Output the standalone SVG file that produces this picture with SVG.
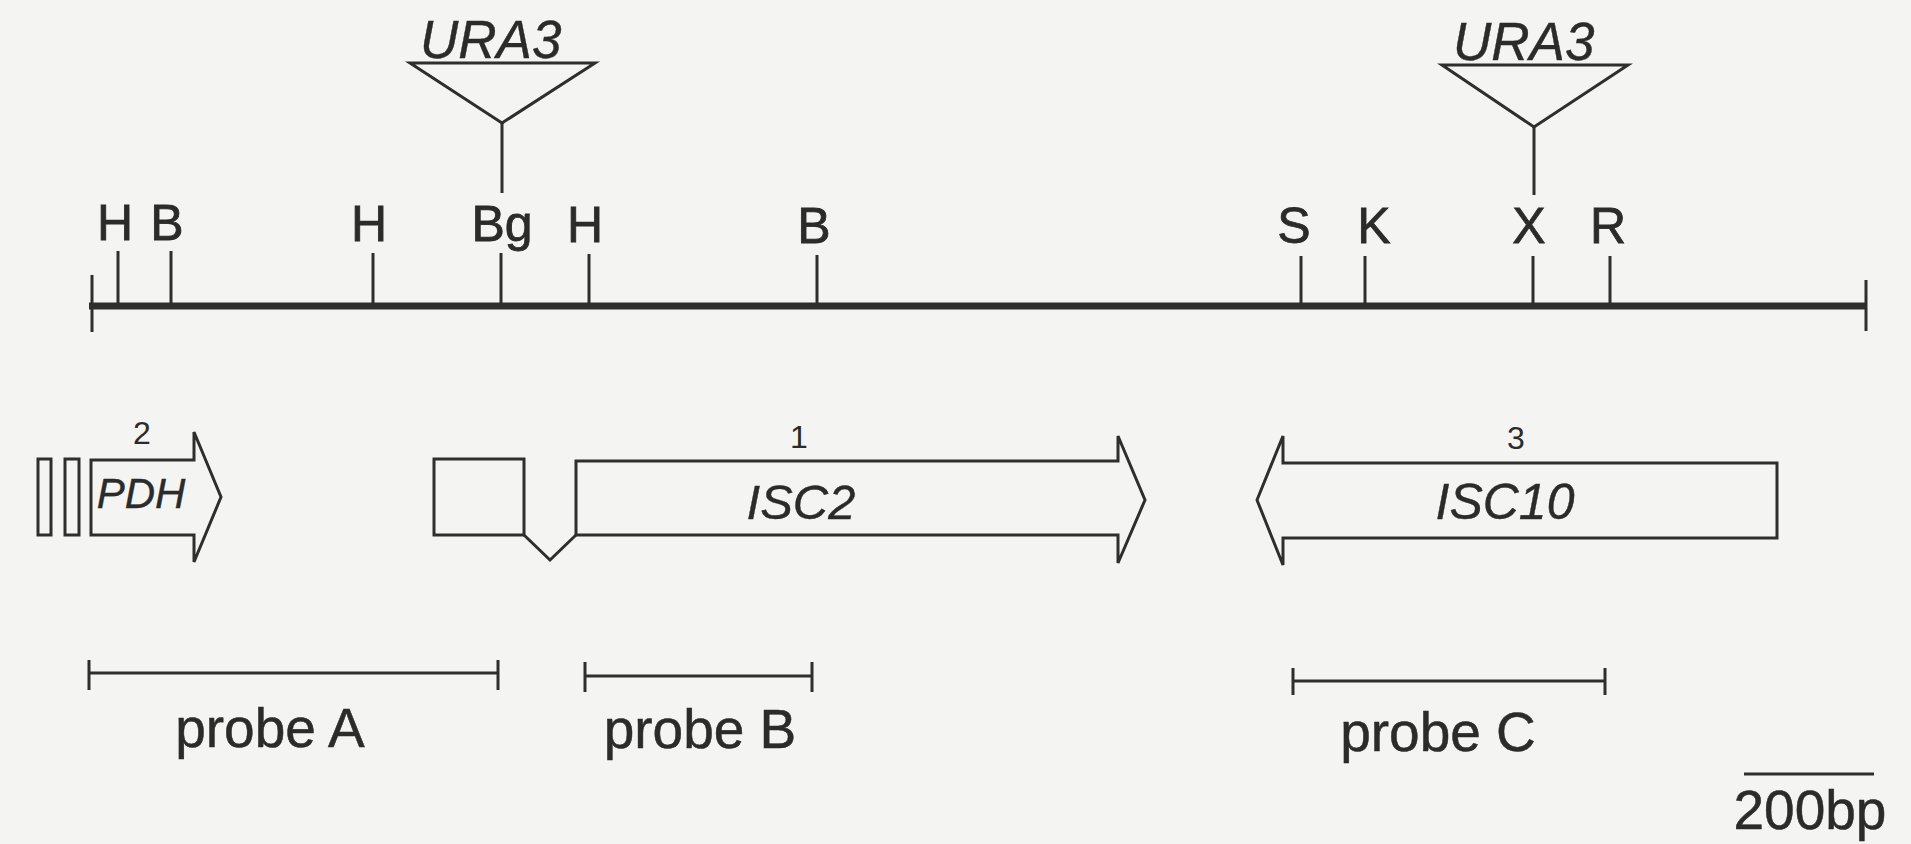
<svg xmlns="http://www.w3.org/2000/svg" width="1911" height="844" viewBox="0 0 1911 844">
  <style>
    .ln { stroke: #2e2e2e; stroke-width: 3; fill: none; stroke-linecap: butt; }
    .shape { stroke: #2e2e2e; stroke-width: 3; fill: none; stroke-linejoin: miter; }
    .site { font-family: "Liberation Sans", Arial, sans-serif; font-size: 50px; fill: #2b2b2b; stroke: #2b2b2b; stroke-width: 0.8; text-anchor: middle; }
    .ital { font-family: "Liberation Sans", Arial, sans-serif; font-style: italic; fill: #2b2b2b; stroke: #2b2b2b; stroke-width: 0.4; }
    .num { font-family: "Liberation Sans", Arial, sans-serif; font-size: 32px; fill: #2b2b2b; text-anchor: middle; }
    .probe { font-family: "Liberation Sans", Arial, sans-serif; font-size: 55px; fill: #2b2b2b; stroke: #2b2b2b; stroke-width: 0.5; text-anchor: middle; }
  </style>
  <rect x="0" y="0" width="1911" height="844" fill="#f4f4f2"/>

  <g id="restriction-map">
    <line x1="89" y1="306" x2="1866" y2="306" stroke="#2e2e2e" stroke-width="7"/>
    <line class="ln" x1="92" y1="275" x2="92" y2="332"/>
    <line class="ln" x1="1866" y1="280" x2="1866" y2="331"/>
    <line class="ln" x1="118" y1="251" x2="118" y2="306"/>
    <line class="ln" x1="171" y1="251" x2="171" y2="306"/>
    <line class="ln" x1="373" y1="253" x2="373" y2="306"/>
    <line class="ln" x1="501" y1="253" x2="501" y2="306"/>
    <line class="ln" x1="589" y1="254" x2="589" y2="306"/>
    <line class="ln" x1="817" y1="255" x2="817" y2="306"/>
    <line class="ln" x1="1301" y1="256" x2="1301" y2="307"/>
    <line class="ln" x1="1365" y1="256" x2="1365" y2="307"/>
    <line class="ln" x1="1533" y1="256" x2="1533" y2="307"/>
    <line class="ln" x1="1610" y1="256" x2="1610" y2="307"/>
    <text class="site" x="115" y="240">H</text>
    <text class="site" x="167" y="240">B</text>
    <text class="site" x="369" y="241">H</text>
    <text class="site" x="502" y="241">Bg</text>
    <text class="site" x="585" y="242">H</text>
    <text class="site" x="814" y="243">B</text>
    <text class="site" x="1294" y="243">S</text>
    <text class="site" x="1374" y="243">K</text>
    <text class="site" x="1529" y="243">X</text>
    <text class="site" x="1608" y="243">R</text>
  </g>

  <g id="ura3-left">
    <path class="shape" d="M410,63 L595,63 L502,123 Z"/>
    <line class="ln" x1="502" y1="123" x2="502" y2="193"/>
    <text class="ital" x="420" y="58" font-size="53">URA3</text>
  </g>

  <g id="ura3-right">
    <path class="shape" d="M1442,65 L1628,65 L1534,127 Z"/>
    <line class="ln" x1="1534" y1="127" x2="1534" y2="195"/>
    <text class="ital" x="1453" y="60" font-size="53">URA3</text>
  </g>

  <g id="pdh">
    <rect class="shape" x="38" y="459" width="13" height="76"/>
    <rect class="shape" x="65" y="459" width="14" height="76"/>
    <path class="shape" d="M91,460 L194,460 L194,432 L221,497 L194,562 L194,535 L91,535 Z"/>
    <text class="num" x="142" y="444">2</text>
    <text class="ital" x="141" y="508" font-size="42" text-anchor="middle">PDH</text>
  </g>

  <g id="isc2">
    <rect class="shape" x="434" y="459" width="90" height="76"/>
    <polyline class="shape" points="524,535 550,560 576,535"/>
    <path class="shape" d="M576,461 L1118,461 L1118,436 L1145,500 L1118,563 L1118,535 L576,535 Z"/>
    <text class="num" x="799" y="448">1</text>
    <text class="ital" x="801" y="519" font-size="49" text-anchor="middle">ISC2</text>
  </g>

  <g id="isc10">
    <path class="shape" d="M1257,500 L1283,436 L1283,463 L1777,463 L1777,538 L1283,538 L1283,565 Z"/>
    <text class="num" x="1516" y="449">3</text>
    <text class="ital" x="1505" y="519" font-size="50" text-anchor="middle">ISC10</text>
  </g>

  <g id="probe-a">
    <line class="ln" x1="89" y1="673" x2="498" y2="673"/>
    <line class="ln" x1="89" y1="660" x2="89" y2="690"/>
    <line class="ln" x1="498" y1="660" x2="498" y2="690"/>
    <text class="probe" x="270" y="747">probe A</text>
  </g>

  <g id="probe-b">
    <line class="ln" x1="585" y1="676" x2="812" y2="676"/>
    <line class="ln" x1="585" y1="662" x2="585" y2="692"/>
    <line class="ln" x1="812" y1="662" x2="812" y2="692"/>
    <text class="probe" x="700" y="748">probe B</text>
  </g>

  <g id="probe-c">
    <line class="ln" x1="1293" y1="681" x2="1605" y2="681"/>
    <line class="ln" x1="1293" y1="668" x2="1293" y2="695"/>
    <line class="ln" x1="1605" y1="668" x2="1605" y2="695"/>
    <text class="probe" x="1438" y="751">probe C</text>
  </g>

  <g id="scale-bar">
    <line class="ln" x1="1744" y1="774" x2="1874" y2="774"/>
    <text class="probe" x="1810" y="829" font-size="51">200bp</text>
  </g>
</svg>
